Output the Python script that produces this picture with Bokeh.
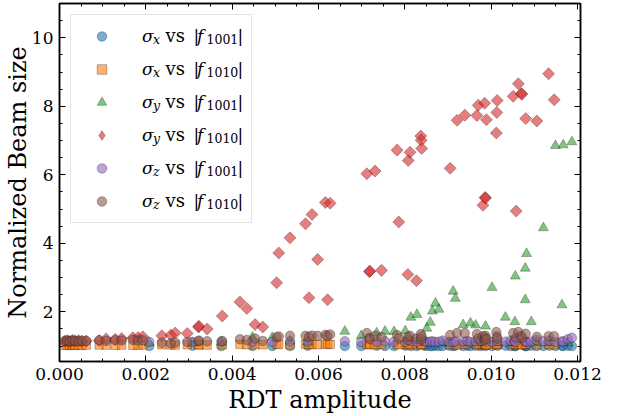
import numpy as np
from bokeh.plotting import figure
from bokeh.models import (Range1d, LinearAxis, SingleIntervalTicker, PrintfTickFormatter,
                          Legend, LegendItem, CDSView, IndexFilter, ColumnDataSource)
from bokeh.core.properties import value
from bokeh.embed import file_html
from bokeh.resources import INLINE

# ---------------- data ----------------
# points plotted against |f1010|
f1010 = [0.00012, 0.00018, 0.00024, 0.00030, 0.00036, 0.00044, 0.00052, 0.00062,
         0.00092, 0.00108, 0.00129, 0.00144, 0.00170, 0.00182, 0.00193,
         0.00237, 0.00258, 0.00268, 0.00296, 0.00322, 0.00323, 0.00342, 0.00377,
         0.00418, 0.00434, 0.00453, 0.00471, 0.00503, 0.00508, 0.00534, 0.00570,
         0.00578, 0.00585, 0.00598, 0.00616, 0.00621, 0.00627, 0.00712, 0.00718,
         0.00719, 0.00731, 0.00746, 0.00782, 0.00786, 0.00807, 0.00808, 0.00812,
         0.00827, 0.00837, 0.00838, 0.00839, 0.00905, 0.00921, 0.00939, 0.00967,
         0.00970, 0.00981, 0.00985, 0.00986, 0.00987, 0.00989, 0.01012, 0.01013,
         0.01014, 0.01051, 0.01058, 0.01063, 0.01070, 0.01071, 0.01080, 0.01106,
         0.01133, 0.01146]
sy_f1010 = [1.14, 1.16, 1.13, 1.17, 1.15, 1.16, 1.14, 1.15,
            1.16, 1.21, 1.20, 1.22, 1.24, 1.25, 1.27,
            1.30, 1.32, 1.38, 1.37, 1.56, 1.58, 1.50, 1.88,
            2.29, 2.10, 1.63, 1.56, 2.85, 3.72, 4.16, 4.57,
            2.41, 4.84, 3.53, 5.19, 2.35, 5.17, 6.03, 3.17,
            3.19, 6.11, 3.21, 6.72, 4.62, 3.09, 6.42, 6.66,
            2.91, 7.13, 7.01, 6.77, 6.19, 7.59, 7.74, 7.73,
            8.03, 5.11, 8.09, 5.34, 5.32, 7.61, 7.22, 7.82,
            8.17, 8.29, 4.94, 8.66, 8.37, 8.35, 7.64, 7.57,
            8.95, 8.19]
sx_f1010 = [1.02, 1.03, 1.02, 1.03, 1.02, 1.03, 1.02, 1.03,
            1.03, 1.03, 1.02, 1.03, 1.02, 1.03, 1.03,
            1.04, 1.03, 1.03, 1.04, 1.03, 1.04, 1.03, 1.04,
            1.05, 1.04, 1.04, 1.04, 1.05, 1.05, 1.04, 1.05,
            1.04, 1.05, 1.04, 1.06, 1.05, 1.05, 1.05, 1.04,
            1.05, 1.04, 1.05, 1.05, 1.04, 1.05, 1.04, 1.05,
            1.04, 1.05, 1.04, 1.05, 1.05, 1.04, 1.05, 1.04,
            1.05, 1.04, 1.05, 1.04, 1.05, 1.04, 1.05, 1.04,
            1.05, 1.04, 1.05, 1.04, 1.05, 1.04, 1.05, 1.04,
            1.05, 1.04]
sz_f1010 = [1.15, 1.16, 1.14, 1.16, 1.15, 1.14, 1.16, 1.15,
            1.17, 1.15, 1.17, 1.16, 1.18, 1.16, 1.17,
            1.10, 1.08, 1.10, 1.12, 1.14, 1.16, 1.14, 1.15,
            1.20, 1.18, 1.22, 1.15, 1.26, 1.28, 1.30, 1.30,
            1.27, 1.31, 1.30, 1.33, 1.30, 1.34, 1.38, 1.24,
            1.20, 1.30, 1.26, 1.32, 1.22, 1.27, 1.18, 1.30,
            1.22, 1.35, 1.20, 1.28, 1.32, 1.38, 1.38, 1.35,
            1.22, 1.29, 1.18, 1.25, 1.30, 1.20, 1.41, 1.28,
            1.22, 1.38, 1.24, 1.41, 1.30, 1.24, 1.36, 1.27,
            1.29, 1.29]

# points plotted against |f1001|
f1001 = [0.00208, 0.00308, 0.00375, 0.00447, 0.00493, 0.00534, 0.00575, 0.00661,
         0.00699, 0.00735, 0.00754, 0.00775, 0.00801, 0.00814, 0.00828, 0.00845,
         0.00851, 0.00859, 0.00864, 0.00871, 0.00879, 0.00888, 0.00903, 0.00912,
         0.00917, 0.00935, 0.00945, 0.00952, 0.00964, 0.00975, 0.00987, 0.01002,
         0.01015, 0.01033, 0.01045, 0.01055, 0.01056, 0.01079, 0.01079, 0.01082,
         0.01093, 0.01105, 0.01121, 0.01135, 0.01149, 0.01164, 0.01167, 0.01178,
         0.01187]
sy_f1001 = [1.10, 1.10, 1.12, 1.26, 1.25, 1.15, 1.12, 1.43,
            1.30, 1.38, 1.43, 1.42, 1.44, 1.84, 1.92, 1.10,
            1.52, 1.69, 2.02, 2.25, 2.07, 1.10, 1.10, 2.60,
            2.39, 1.62, 1.10, 1.67, 1.61, 1.10, 1.58, 2.71,
            1.10, 1.84, 1.10, 1.71, 3.04, 3.27, 2.35, 3.70,
            1.71, 1.10, 4.45, 1.10, 6.85, 2.20, 6.87, 1.10,
            6.96]
sx_f1001 = [1.00, 1.01, 1.00, 1.00, 1.00, 1.00, 1.01, 1.00,
            1.00, 1.01, 1.00, 1.00, 1.01, 1.00, 1.00, 1.01,
            1.01, 1.00, 1.00, 1.01, 1.00, 1.00, 1.01, 1.00,
            1.01, 1.00, 1.01, 1.00, 1.01, 1.00, 1.00, 1.00,
            1.01, 1.01, 1.00, 1.00, 1.00, 1.01, 1.00, 1.00,
            1.01, 1.00, 1.00, 1.01, 1.00, 1.01, 1.00, 1.01,
            1.00]
sz_f1001 = [1.12, 1.12, 1.13, 1.13, 1.12, 1.14, 1.13, 1.14,
            1.12, 1.13, 1.14, 1.13, 1.12, 1.14, 1.13, 1.15,
            1.12, 1.13, 1.14, 1.12, 1.13, 1.16, 1.12, 1.12,
            1.14, 1.13, 1.15, 1.12, 1.14, 1.16, 1.13, 1.12,
            1.15, 1.13, 1.16, 1.14, 1.12, 1.13, 1.14, 1.12,
            1.13, 1.18, 1.14, 1.16, 1.12, 1.13, 1.14, 1.20,
            1.24]

x_ticks_interval = 0.002
y_ticks_interval = 2
x_label = "RDT amplitude"
y_label = "Normalized Beam size"

sigma_subs = ["x", "x", "y", "y", "z", "z"]
rdt_subs = ["1001", "1010", "1001", "1010", "1001", "1010"]

colors = ["#1f77b4", "#ff7f0e", "#2ca02c", "#d62728", "#9467bd", "#8c564b"]

# ---------------- figure ----------------
X0, X1 = 0.0, 0.01207
Y0, Y1 = 0.55, 11.0
FW, FH = 521, 358
p = figure(frame_width=FW, frame_height=FH, output_backend="svg", toolbar_location=None,
           x_range=Range1d(X0, X1), y_range=Range1d(Y0, Y1),
           min_border_left=57, min_border_right=22, min_border_top=3, min_border_bottom=50)
p.background_fill_color = "white"
p.border_fill_color = "white"
p.xgrid.visible = False
p.ygrid.visible = False
p.outline_line_color = "black"
p.outline_line_width = 1.5

serif = "DejaVu Serif"

xt = SingleIntervalTicker(interval=x_ticks_interval, num_minor_ticks=4)
yt = SingleIntervalTicker(interval=y_ticks_interval, num_minor_ticks=4)

def style_axis(ax, labels=True):
    ax.axis_line_color = "black"
    ax.axis_line_width = 1.5
    ax.major_tick_in = 6
    ax.major_tick_out = 0
    ax.minor_tick_in = 3
    ax.minor_tick_out = 0
    ax.major_tick_line_color = "black"
    ax.minor_tick_line_color = "black"
    ax.major_tick_line_width = 1
    ax.minor_tick_line_width = 1
    if labels:
        ax.major_label_text_font = serif
        ax.major_label_text_font_size = "17px"
        ax.major_label_text_color = "black"
        ax.major_label_standoff = 6
        ax.axis_label_text_font = serif
        ax.axis_label_text_font_size = "24px"
        ax.axis_label_text_font_style = "normal"
        ax.axis_label_text_color = "black"
        ax.axis_label_standoff = 3
    else:
        ax.major_label_text_font_size = "0px"
        ax.major_label_standoff = 0

p.xaxis.ticker = xt
p.yaxis.ticker = yt
p.xaxis.formatter = PrintfTickFormatter(format="%.3f")
p.xaxis.axis_label = x_label
p.yaxis.axis_label = y_label
style_axis(p.xaxis[0])
style_axis(p.yaxis[0])
p.yaxis[0].axis_label_standoff = -3

top_ax = LinearAxis(ticker=xt, formatter=PrintfTickFormatter(format=" "))
right_ax = LinearAxis(ticker=yt, formatter=PrintfTickFormatter(format=" "))
style_axis(top_ax, labels=False)
style_axis(right_ax, labels=False)
p.add_layout(top_ax, "above")
p.add_layout(right_ax, "right")

common = dict(fill_alpha=0.6, line_color="black", line_alpha=0.45, line_width=0.6)
r_bx = p.scatter(f1001, sx_f1001, marker="circle", size=9.5, fill_color=colors[0], **common)
r_ox = p.scatter(f1010, sx_f1010, marker="square", size=8.5, fill_color=colors[1], **common)
r_gy = p.scatter(f1001, sy_f1001, marker="triangle", size=10, fill_color=colors[2], **common)
r_ry = p.scatter(f1010, sy_f1010, marker="square", angle=np.pi / 4, size=8.5,
                 fill_color=colors[3], **common)
# legend key for the diamond series (legend keys ignore marker rotation):
# same data, only its first point in view (it sits under the identical plotted point)
r_ry_key = p.scatter(f1010, sy_f1010, marker="diamond", size=8, fill_color=colors[3],
                     view=CDSView(filter=IndexFilter(indices=[0])), **common)
r_pz = p.scatter(f1001, sz_f1001, marker="circle", size=9.5, fill_color=colors[4], **common)
r_bz = p.scatter(f1010, sz_f1010, marker="circle", size=9.5, fill_color=colors[5], **common)
legend_renderers = [r_bx, r_ox, r_gy, r_ry_key, r_pz, r_bz]

# ---- legend text pieces (math-like: sigma_sub vs |f_sub|), drawn as text glyphs
row0 = 32      # px from frame top to first row centre
step = 33
tx, ty, txt, tstyle, tsize, xo, yo = [], [], [], [], [], [], []
for k in range(6):
    yc = row0 + step * k
    for (dx, dy, t, st, fs) in [
        (93.5, yc + 3.8, sigma_subs[k], "italic", "12.5px"),
        (106, yc, "vs", "normal", "18px"),
        (134, yc, "|", "normal", "17px"),
        (137.5, yc, "f", "italic", "17px"),
        (147, yc + 3.8, rdt_subs[k], "normal", "12.5px"),
        (178, yc, "|", "normal", "17px"),
    ]:
        tx.append(X0); ty.append(Y1); txt.append(t)
        tstyle.append(st); tsize.append(fs); xo.append(dx); yo.append(dy)
tsrc = ColumnDataSource(dict(x=tx, y=ty, text=txt, style=tstyle, size=tsize,
                             xo=xo, yo=yo))
p.text(x="x", y="y", text="text", source=tsrc, x_offset="xo", y_offset="yo",
       text_font=value(serif), text_font_style="style", text_font_size="size",
       text_baseline="middle", text_align="left", text_color="black")

items = [LegendItem(label="σ", renderers=[r]) for r in legend_renderers]
legend = Legend(items=items, location="top_left", margin=11, padding=9,
                glyph_width=43, glyph_height=24, label_height=24, spacing=9,
                label_standoff=19, label_width=100,
                label_text_font=serif, label_text_font_size="17px",
                label_text_font_style="italic", label_text_color="black",
                border_line_color="#cccccc", border_line_width=1,
                background_fill_color="white", background_fill_alpha=0.0)
p.add_layout(legend, "center")

open("out.html", "w").write(file_html(p, INLINE))
